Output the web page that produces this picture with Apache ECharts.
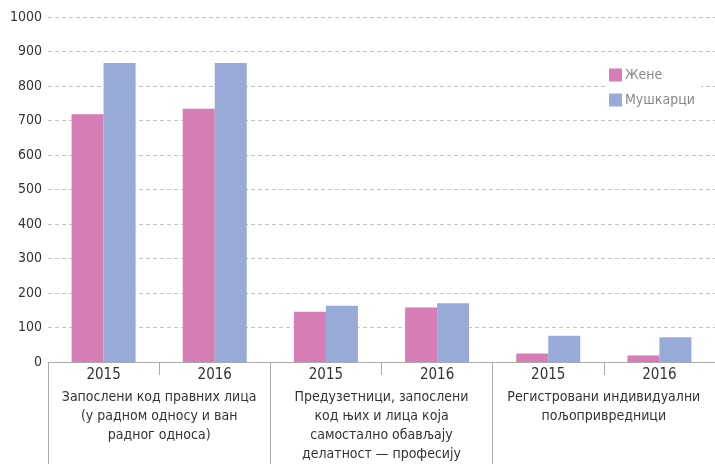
<!DOCTYPE html>
<html>
<head>
<meta charset="utf-8">
<script src="https://cdn.jsdelivr.net/npm/echarts@6/dist/echarts.min.js"></script>
<style>
html,body{margin:0;padding:0;background:#fff;}
#chart{width:715px;height:464px;}
</style>
</head>
<body>
<div id="chart"></div>
<script>
var years = ['2015', '2016', '2015', '2016', '2015', '2016'];
var groups = [
  'Запослени код правних лица\n(у радном односу и ван\nрадног односа)',
  'Предузетници, запослени\nкод њих и лица која\nсамостално обављају\nделатност — професију',
  'Регистровани индивидуални\nпољопривредници'
];
var yTicks = [0, 100, 200, 300, 400, 500, 600, 700, 800, 900, 1000];
var women = [718, 734, 146, 158, 25, 19];
var men = [867, 867, 163, 170, 76, 72];

var FONT = '"Liberation Sans Narrow", "DejaVu Sans Condensed", sans-serif';
var chart = echarts.init(document.getElementById('chart'));
chart.setOption({
  animation: false,
  backgroundColor: '#fff',
  textStyle: { fontFamily: FONT },
  grid: { left: 48, right: -5, top: 17, bottom: 102, containLabel: false },
  legend: {
    data: ['Жене', 'Мушкарци'],
    orient: 'vertical',
    left: 605,
    top: 65,
    itemWidth: 13,
    itemHeight: 13,
    itemGap: 11,
    backgroundColor: '#fff',
    padding: [3, 6, 3, 4],
    textStyle: { color: '#888', fontSize: 14, fontFamily: FONT, padding: [0, 0, 0, -2] },
    icon: 'rect'
  },
  xAxis: [
    {
      type: 'category',
      data: years,
      position: 'bottom',
      axisLine: { show: true, lineStyle: { color: '#aaa', width: 1 } },
      axisTick: { show: true, length: 13, lineStyle: { color: '#aaa' } },
      axisLabel: { color: '#333', fontSize: 15, margin: 6, fontFamily: FONT }
    },
    {
      type: 'category',
      data: groups,
      position: 'bottom',
      axisLine: { show: false },
      axisTick: { show: true, length: 110, lineStyle: { color: '#aaa' } },
      axisLabel: { color: '#333', fontSize: 14, margin: 26, lineHeight: 19, fontFamily: FONT, interval: 0 }
    }
  ],
  yAxis: {
    type: 'value',
    min: yTicks[0],
    max: yTicks[yTicks.length - 1],
    interval: 100,
    axisLine: { show: false },
    axisTick: { show: false },
    axisLabel: { color: '#333', fontSize: 14, margin: 6, fontFamily: FONT, formatter: function (v) { return String(v); } },
    splitLine: { show: true, lineStyle: { color: '#c4c4c4', type: [4, 3], width: 1 } }
  },
  series: [
    { name: 'Жене', type: 'bar', data: women, barWidth: 32, barGap: '0%', itemStyle: { color: '#d77db5' } },
    { name: 'Мушкарци', type: 'bar', data: men, barWidth: 32, barGap: '0%', itemStyle: { color: '#97aad8' } }
  ]
});
</script>
</body>
</html>
